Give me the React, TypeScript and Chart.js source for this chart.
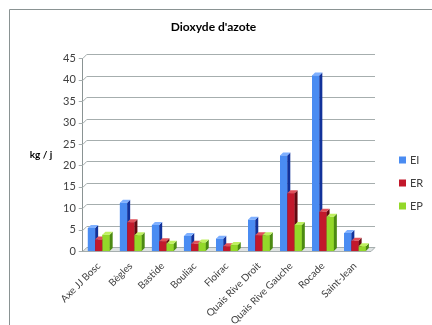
import React, { useEffect, useRef } from "react";
import { Chart, registerables } from "chart.js";

Chart.register(...registerables);

const categories = [
  "Axe JJ Bosc",
  "Bègles",
  "Bastide",
  "Bouliac",
  "Floirac",
  "Quais Rive Droit",
  "Quais Rive Gauche",
  "Rocade",
  "Saint-Jean",
];
const seriesNames = ["EI", "ER", "EP"];
const eiValues = [5.4, 11.3, 6.1, 3.5, 2.9, 7.3, 22.3, 41.0, 4.2];
const erValues = [2.7, 6.7, 2.3, 1.7, 1.1, 3.7, 13.5, 9.2, 2.4];
const epValues = [3.8, 3.7, 1.7, 2.0, 1.4, 3.7, 6.1, 8.0, 1.1];
const yTicks = [0, 5, 10, 15, 20, 25, 30, 35, 40, 45];

const frontColors = ["#4a8cf2", "#c2182b", "#93d829"];
const sideColors = ["#12329a", "#620910", "#4c8a12"];
const topColors = ["#7fb0ff", "#e0505a", "#bff060"];

const FONT = "Lato, 'Open Sans', sans-serif";
const DEPTH = 3;
const GD = 4;

const threeD = {
  id: "threeD",
  beforeDraw(chart: any) {
    const ctx = chart.ctx;
    ctx.save();
    ctx.fillStyle = "#ffffff";
    ctx.fillRect(0, 0, chart.width, chart.height);
    ctx.strokeStyle = "#8a9393";
    ctx.lineWidth = 1;
    ctx.beginPath();
    ctx.moveTo(9.5, chart.height);
    ctx.lineTo(9.5, 9.5);
    ctx.lineTo(chart.width, 9.5);
    ctx.stroke();
    ctx.restore();
  },
  beforeDatasetsDraw(chart: any) {
    const ctx = chart.ctx;
    const ys = chart.scales.y;
    const { left, right } = chart.chartArea;
    ctx.save();
    ctx.strokeStyle = "#a6aeae";
    ctx.lineWidth = 1;
    const base = Math.round(ys.getPixelForValue(0)) + 0.5;
    ctx.fillStyle = "#dfe3e3";
    ctx.beginPath();
    ctx.moveTo(left, base);
    ctx.lineTo(left + GD, base - GD);
    ctx.lineTo(right + GD, base - GD);
    ctx.lineTo(right, base);
    ctx.closePath();
    ctx.fill();
    ctx.stroke();
    ys.ticks.forEach((t: any) => {
      const py = Math.round(ys.getPixelForValue(t.value)) + 0.5;
      ctx.beginPath();
      ctx.moveTo(left - 4, py);
      ctx.lineTo(left, py);
      if (t.value > 0) {
        ctx.lineTo(left + GD, py - GD);
        ctx.lineTo(right + GD, py - GD);
      }
      ctx.stroke();
    });
    ctx.restore();
  },
  afterDatasetsDraw(chart: any) {
    const ctx = chart.ctx;
    ctx.save();
    chart.data.datasets.forEach((_ds: any, i: number) => {
      const meta = chart.getDatasetMeta(i);
      meta.data.forEach((bar: any) => {
        bar.draw(ctx);
        const { x, y, base, width } = bar.getProps(["x", "y", "base", "width"], true);
        const l = x - width / 2;
        const r = x + width / 2;
        ctx.fillStyle = sideColors[i];
        ctx.beginPath();
        ctx.moveTo(r, y);
        ctx.lineTo(r + DEPTH, y - DEPTH);
        ctx.lineTo(r + DEPTH, base - DEPTH);
        ctx.lineTo(r, base);
        ctx.closePath();
        ctx.fill();
        ctx.fillStyle = topColors[i];
        ctx.beginPath();
        ctx.moveTo(l, y);
        ctx.lineTo(l + DEPTH, y - DEPTH);
        ctx.lineTo(r + DEPTH, y - DEPTH);
        ctx.lineTo(r, y);
        ctx.closePath();
        ctx.fill();
      });
    });
    ctx.restore();
  },
  afterDraw(chart: any) {
    const ctx = chart.ctx;
    ctx.save();
    ctx.font = `bold 10px ${FONT}`;
    ctx.fillStyle = "#000";
    ctx.textAlign = "center";
    ctx.textBaseline = "middle";
    ctx.fillText("kg / j", 41, 155);
    // legend
    ctx.font = `11px ${FONT}`;
    ctx.textAlign = "left";
    chart.data.datasets.forEach((ds: any, i: number) => {
      const cy = 160 + i * 23;
      ctx.fillStyle = frontColors[i];
      ctx.fillRect(399, cy - 3.5, 7, 7);
      ctx.fillStyle = "#404040";
      ctx.fillText(ds.label, 410, cy + 0.5);
    });
    ctx.restore();
  },
};

export default function App() {
  const ref = useRef<HTMLCanvasElement>(null);
  useEffect(() => {
    document.body.style.margin = "0";
    const values = [eiValues, erValues, epValues];
    const chart = new Chart(ref.current!, {
      type: "bar",
      data: {
        labels: categories,
        datasets: seriesNames.map((name, i) => ({
          label: name,
          data: values[i],
          backgroundColor: frontColors[i],
          borderWidth: 0,
          categoryPercentage: 0.68,
          barPercentage: 1,
        })),
      },
      options: {
        animation: false,
        responsive: false,
        maintainAspectRatio: false,
        layout: { padding: { left: 56, right: 61, top: 0, bottom: -11 } },
        plugins: {
          title: {
            display: true,
            text: "Dioxyde d'azote",
            color: "#000",
            font: { family: FONT, size: 12, weight: "bold" },
            padding: { top: 20, bottom: 24 },
          },
          legend: { display: false },
          tooltip: { enabled: false },
        },
        scales: {
          x: {
            grid: { display: false, drawTicks: false },
            border: { display: false },
            ticks: {
              color: "#404040",
              font: { family: FONT, size: 10 },
              minRotation: 45,
              maxRotation: 45,
              autoSkip: false,
              padding: 9,
            },
          },
          y: {
            min: 0,
            max: 45,
            afterBuildTicks: (axis: any) => {
              axis.ticks = yTicks.map((v) => ({ value: v }));
            },
            grid: { display: false, drawTicks: false },
            border: { display: true, color: "#8a9393" },
            ticks: {
              color: "#404040",
              font: { family: FONT, size: 11 },
              padding: 7,
            },
          },
        },
      },
      plugins: [threeD],
    });
    return () => chart.destroy();
  }, []);
  return (
    <div style={{ position: "relative", width: 432, height: 325 }}>
      <canvas ref={ref} width={432} height={325} />
    </div>
  );
}
